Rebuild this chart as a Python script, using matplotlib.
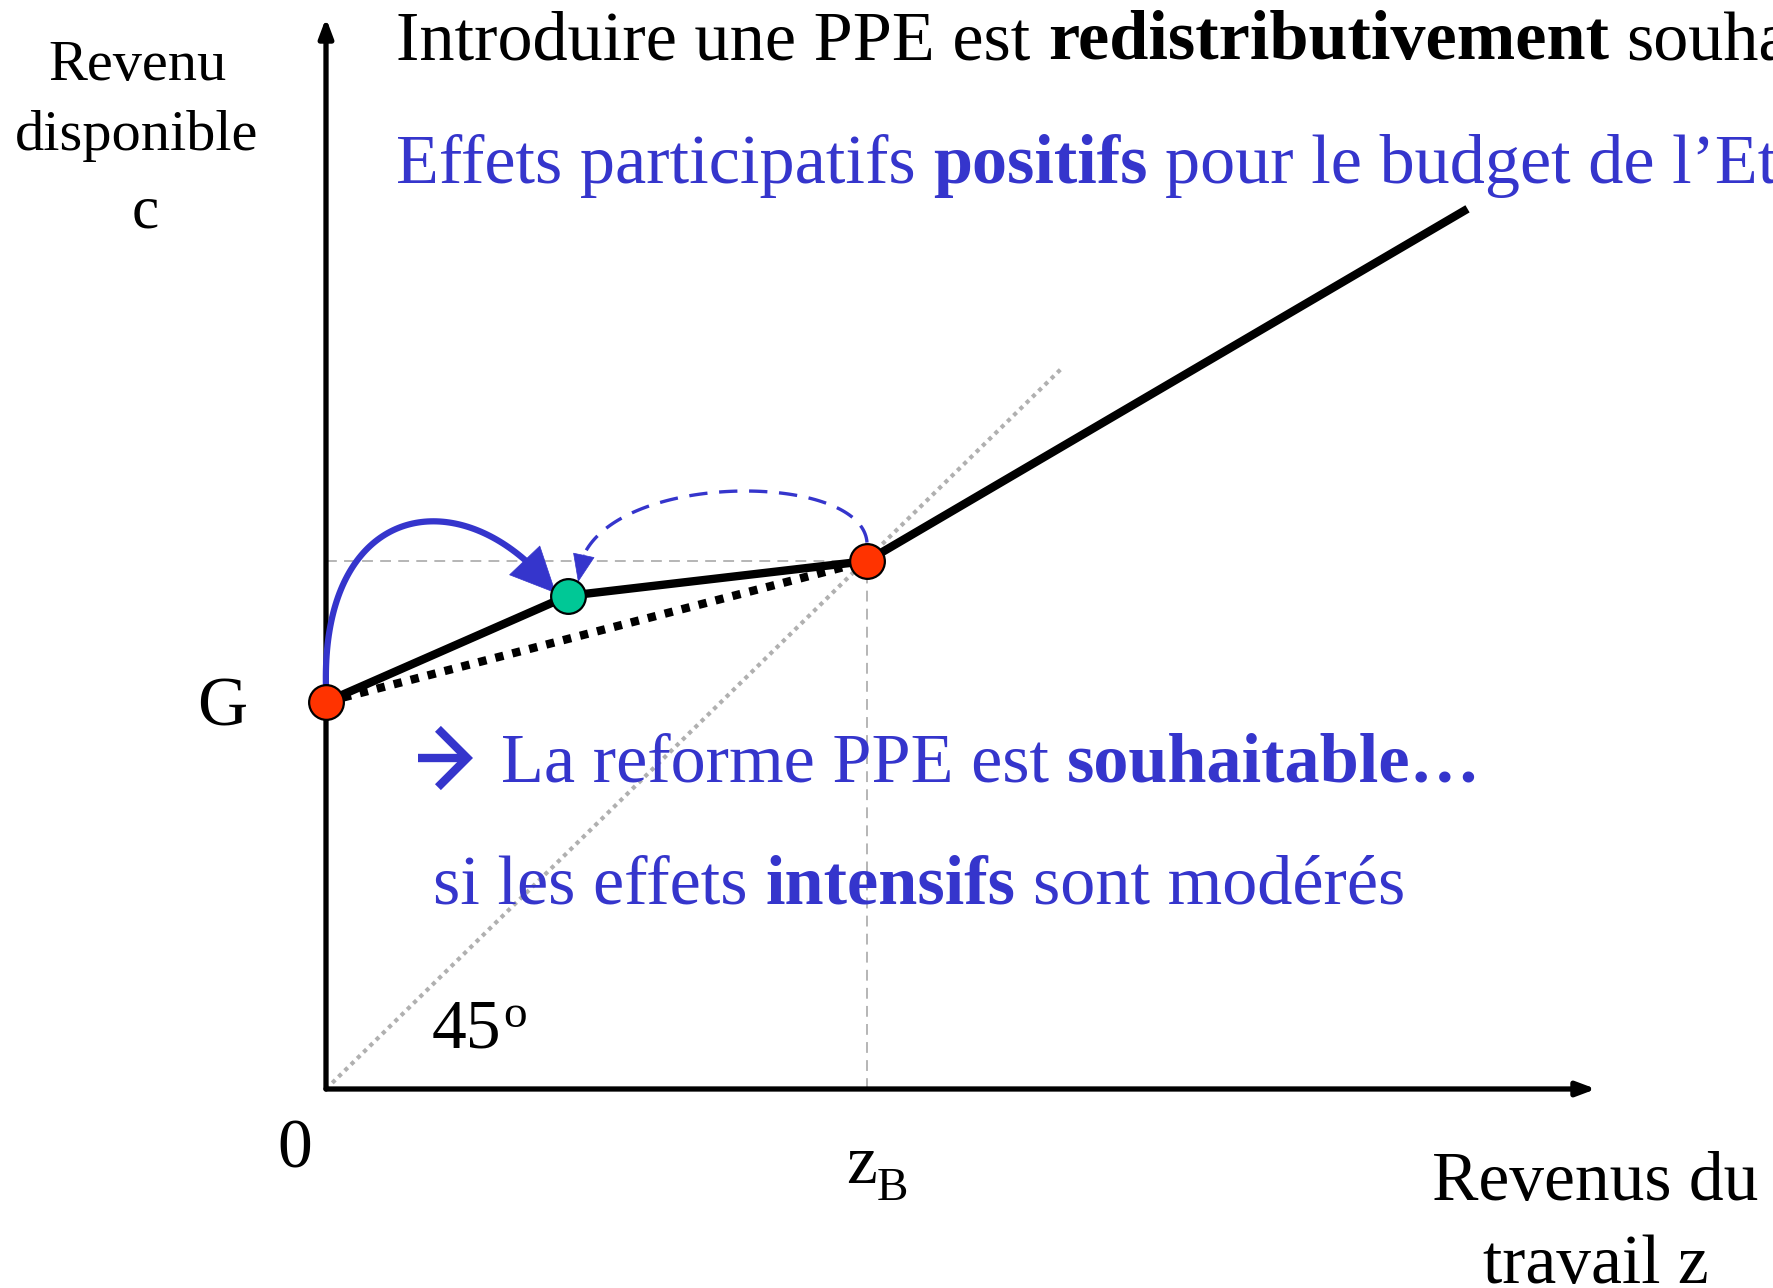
import numpy as np
import matplotlib
matplotlib.use("Agg")
import matplotlib.pyplot as plt

plt.rcParams['font.family'] = ['Liberation Serif', 'DejaVu Serif']

# valeurs (z = revenus du travail, c = revenu disponible, zB = 1)
G = 0.733
zB = 1.0
z_ppe = [0.0, 0.447, zB, 2.11]          # contrainte budgétaire avec PPE
c_ppe = [G, 0.934, 1.0, 1.667]
z_sans = [0.0, zB]                       # contrainte sans PPE (pointillés)
c_sans = [G, 1.0]
z_45 = [0.0, 1.362]
c_45 = [0.0, 1.367]
z_pts_rouges = [0.0, zB]
c_pts_rouges = [G, 1.0]
z_pt_vert = [0.447]
c_pt_vert = [0.934]

bleu = '#3535cc'
rouge = '#ff3300'
vert = '#00c896'
gris = '#b0b0b0'
taille = 50.6

W, H = 1773, 1288
ox, oy = 326, 1089      # origine en pixels
sx, sy = 541, 528       # pixels par unité

fig = plt.figure(figsize=(W / 100, H / 100), dpi=100)
ax = fig.add_axes([0, 0, 1, 1])
ax.set_xlim(-ox / sx, (W - ox) / sx)
ax.set_ylim(-(H - oy) / sy, oy / sy)
ax.axis('off')


def fx(x):
    return x / W


def fy(y):
    return 1 - y / H


# axes avec flèches
ax.annotate('', xy=(0, oy / sy - 18 / sy), xytext=(0, 0),
            arrowprops=dict(arrowstyle='-|>,head_length=0.8,head_width=0.3', lw=3.8,
                            color='black', shrinkA=0, shrinkB=0, mutation_scale=14))
ax.annotate('', xy=((1596 - ox) / sx, 0), xytext=(0, 0),
            arrowprops=dict(arrowstyle='-|>,head_length=0.8,head_width=0.3', lw=3.8,
                            color='black', shrinkA=0, shrinkB=0, mutation_scale=14))

# lignes guides
ax.plot(z_45, c_45, color=gris, lw=3.0, ls=(0, (1, 1.1)), zorder=1)
ax.plot([0, zB], [1.0, 1.0], color=gris, lw=1.3, ls=(0, (6, 4)), zorder=1)
ax.plot([zB, zB], [0, 1.0], color=gris, lw=1.3, ls=(0, (6, 4)), zorder=1)

# contraintes budgétaires
ax.plot(z_sans, c_sans, color='black', lw=6, ls=(0, (1, 1.1)), dash_capstyle='butt', zorder=3)
ax.plot(z_ppe, c_ppe, color='black', lw=6, solid_capstyle='butt', zorder=4)


def bezier(p0, p1, p2, p3, n=100):
    t = np.linspace(0, 1, n)[:, None]
    p0, p1, p2, p3 = map(np.array, (p0, p1, p2, p3))
    return ((1 - t) ** 3 * p0 + 3 * (1 - t) ** 2 * t * p1
            + 3 * (1 - t) * t ** 2 * p2 + t ** 3 * p3)


# flèche pleine (effet participatif)
arc = bezier((0.0, 0.76), (-0.01, 1.12), (0.26, 1.16), (0.425, 0.939))
ax.plot(arc[:-7, 0], arc[:-7, 1], color=bleu, lw=4.5, zorder=5, solid_capstyle='butt')
ax.annotate('', xy=arc[-1], xytext=arc[-13],
            arrowprops=dict(arrowstyle='-|>,head_length=3.2,head_width=1.5', color=bleu,
                            lw=0.5, shrinkA=0, shrinkB=0, mutation_scale=10))

# flèche pointillée (effet intensif)
arc2 = bezier((1.0, 1.035), (0.99, 1.18), (0.46, 1.17), (0.466, 0.96))
ax.plot(arc2[:-5, 0], arc2[:-5, 1], color=bleu, lw=2.4, ls=(0, (5.5, 3.5)), zorder=5)
ax.annotate('', xy=arc2[-1], xytext=arc2[-10],
            arrowprops=dict(arrowstyle='-|>,head_length=1.9,head_width=0.75', color=bleu,
                            lw=0.5, shrinkA=0, shrinkB=0, mutation_scale=10))

# points
ax.plot(z_pts_rouges, c_pts_rouges, 'o', ms=25, mfc=rouge, mec='black', mew=1.6, zorder=6)
ax.plot(z_pt_vert, c_pt_vert, 'o', ms=25, mfc=vert, mec='black', mew=1.6, zorder=6)


def ligne(x, y, parts, color, size):
    """Texte avec segments gras / normal enchaînés."""
    prev = fig.text(fx(x), fy(y), parts[0][0], color=color, fontsize=size,
                    fontweight=parts[0][1], va='baseline', ha='left')
    for txt, w in parts[1:]:
        prev = ax.annotate(txt, xy=(1, 0), xycoords=prev, xytext=(0.25 * size, 0),
                           textcoords='offset points', va='bottom', ha='left',
                           color=color, fontsize=size, fontweight=w,
                           annotation_clip=False)


ligne(396, 59, [('Introduire une PPE est', 'normal'), ('redistributivement', 'bold'),
                ('souhaitable', 'normal')], 'black', taille)
ligne(396, 183, [('Effets participatifs', 'normal'), ('positifs', 'bold'),
                 ('pour le budget de l\u2019Etat', 'normal')], bleu, taille)
# flèche "→" devant la conclusion
ax.annotate('', xy=(fx(473), fy(758)), xytext=(fx(418), fy(758)),
            xycoords='figure fraction', textcoords='figure fraction',
            arrowprops=dict(arrowstyle='->,head_length=0.7,head_width=0.7', color=bleu,
                            lw=6, shrinkA=0, shrinkB=0, mutation_scale=30,
                            joinstyle='miter', capstyle='butt'))
ligne(501, 781, [('La reforme PPE est', 'normal'), ('souhaitable\u2026', 'bold')], bleu, taille)
ligne(433, 904, [('si les effets', 'normal'), ('intensifs', 'bold'),
                 ('sont modérés', 'normal')], bleu, taille)

# étiquettes
fig.text(fx(137), fy(80), 'Revenu', fontsize=42, ha='center', va='baseline')
fig.text(fx(137), fy(150), 'disponible', fontsize=42, ha='center', va='baseline')
fig.text(fx(145), fy(227), 'c', fontsize=44, ha='center', va='baseline')
fig.text(fx(222), fy(726), 'G', fontsize=50, ha='center', va='baseline')
fig.text(fx(295), fy(1167), '0', fontsize=50, ha='center', va='baseline')
fig.text(fx(846), fy(1183), 'z', fontsize=50, ha='left', va='baseline')
fig.text(fx(877), fy(1200), 'B', fontsize=34, ha='left', va='baseline')
fig.text(fx(1595), fy(1200), 'Revenus du', fontsize=50, ha='center', va='baseline')
fig.text(fx(1596), fy(1283), 'travail z', fontsize=50, ha='center', va='baseline')
fig.text(fx(432), fy(1047), '45', fontsize=50, ha='left', va='baseline')
fig.text(fx(503), fy(1027), 'o', fontsize=34, ha='left', va='baseline')

fig.savefig('out.png', dpi=100)
